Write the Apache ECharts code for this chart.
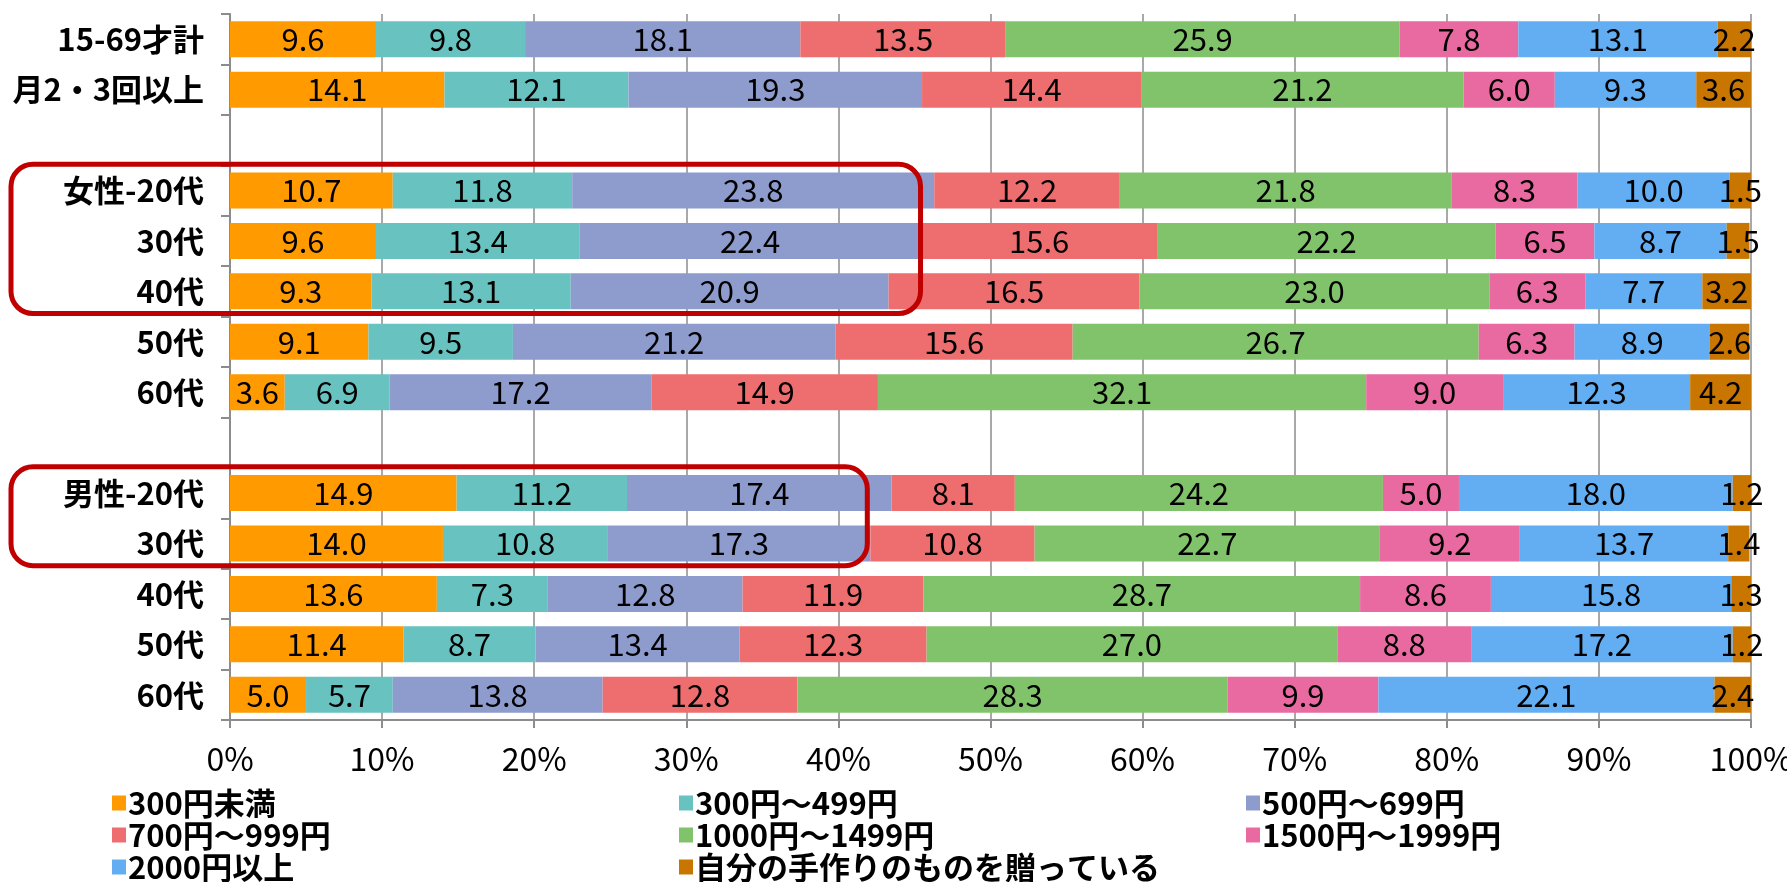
<!DOCTYPE html>
<html>
<head>
<meta charset="utf-8">
<script src="https://cdn.jsdelivr.net/npm/echarts@6/dist/echarts.min.js"></script>
<style>
  html, body { margin: 0; padding: 0; background: #fff; }
  #chart { width: 1787px; height: 882px; }
</style>
</head>
<body>
<div id="chart"></div>
<script>
const categories = ['15-69才計', '月2・3回以上', '', '女性-20代', '30代', '40代', '50代', '60代', '', '男性-20代', '30代', '40代', '50代', '60代']
const seriesNames = ['300円未満', '300円～499円', '500円～699円', '700円～999円', '1000円～1499円', '1500円～1999円', '2000円以上', '自分の手作りのものを贈っている']
const colors = ['#FF9A00', '#68C3C0', '#8E9BCD', '#EE6E6F', '#81C36B', '#E86AA0', '#63AEF2', '#C87600']
const xTicks = [0, 10, 20, 30, 40, 50, 60, 70, 80, 90, 100]

const under300 = [9.6, 14.1, null, 10.7, 9.6, 9.3, 9.1, 3.6, null, 14.9, 14.0, 13.6, 11.4, 5.0]
const y300to499 = [9.8, 12.1, null, 11.8, 13.4, 13.1, 9.5, 6.9, null, 11.2, 10.8, 7.3, 8.7, 5.7]
const y500to699 = [18.1, 19.3, null, 23.8, 22.4, 20.9, 21.2, 17.2, null, 17.4, 17.3, 12.8, 13.4, 13.8]
const y700to999 = [13.5, 14.4, null, 12.2, 15.6, 16.5, 15.6, 14.9, null, 8.1, 10.8, 11.9, 12.3, 12.8]
const y1000to1499 = [25.9, 21.2, null, 21.8, 22.2, 23.0, 26.7, 32.1, null, 24.2, 22.7, 28.7, 27.0, 28.3]
const y1500to1999 = [7.8, 6.0, null, 8.3, 6.5, 6.3, 6.3, 9.0, null, 5.0, 9.2, 8.6, 8.8, 9.9]
const over2000 = [13.1, 9.3, null, 10.0, 8.7, 7.7, 8.9, 12.3, null, 18.0, 13.7, 15.8, 17.2, 22.1]
const handmade = [2.2, 3.6, null, 1.5, 1.5, 3.2, 2.6, 4.2, null, 1.2, 1.4, 1.3, 1.2, 2.4]

const seriesValues = [under300, y300to499, y500to699, y700to999, y1000to1499, y1500to1999, over2000, handmade]

// red highlight boxes: first/last category index and right edge in %
const highlights = [
  { from: 3, to: 5, right: 45.4 },
  { from: 9, to: 10, right: 41.9 }
]

const FONT = "'Noto Sans CJK JP', sans-serif"
const GRID_GRAY = '#8c8c8c'

const chart = echarts.init(document.getElementById('chart'))

const option = {
  animation: false,
  color: colors,
  textStyle: { fontFamily: FONT },
  grid: { left: 230, right: 36, top: 14, bottom: 162, outerBoundsMode: 'none' },
  legend: {
    data: seriesNames,
    left: 107,
    top: 782,
    width: 1720,
    itemWidth: 14,
    itemHeight: 15,
    itemGap: 0,
    icon: 'rect',
    selectedMode: false,
    textStyle: {
      fontFamily: FONT,
      fontSize: 31,
      fontWeight: 'bold',
      color: '#000',
      width: 551,
      lineHeight: 32,
      padding: [0, 0, 0, -3]
    }
  },
  xAxis: {
    type: 'value',
    min: 0,
    max: 100,
    interval: 10,
    axisLine: { show: true, lineStyle: { color: GRID_GRAY, width: 2 } },
    axisTick: { show: true, length: 8, lineStyle: { color: GRID_GRAY, width: 2 } },
    splitLine: { show: true, lineStyle: { color: GRID_GRAY, width: 1.5 } },
    axisLabel: {
      formatter: v => xTicks.includes(v) ? v + '%' : '',
      fontSize: 32,
      color: '#000',
      margin: 23
    }
  },
  yAxis: {
    type: 'category',
    data: categories,
    inverse: true,
    axisLine: { show: true, lineStyle: { color: GRID_GRAY, width: 2 } },
    axisTick: { show: true, length: 9, lineStyle: { color: GRID_GRAY, width: 2 } },
    axisLabel: {
      fontSize: 31,
      fontWeight: 'bold',
      color: '#000',
      margin: 26
    }
  },
  series: seriesNames.map((name, i) => ({
    name,
    type: 'bar',
    stack: 'total',
    barWidth: 36,
    data: seriesValues[i],
    label: {
      show: true,
      position: 'inside',
      color: '#000',
      fontSize: 31,
      fontFamily: FONT,
      formatter: p => p.value == null ? '' : Number(p.value).toFixed(1)
    },
    emphasis: { disabled: true }
  }))
}

chart.setOption(option)

function drawHighlights() {
  const c0 = chart.convertToPixel({ yAxisIndex: 0 }, 0)
  const c1 = chart.convertToPixel({ yAxisIndex: 0 }, 1)
  const band = c1 - c0
  const graphics = highlights.map(h => {
    const top = chart.convertToPixel({ yAxisIndex: 0 }, h.from) - band / 2 - 1
    const bottom = chart.convertToPixel({ yAxisIndex: 0 }, h.to) + band / 2 - 3
    const right = chart.convertToPixel({ xAxisIndex: 0 }, h.right)
    return {
      type: 'rect',
      z: 100,
      shape: { x: 11, y: top, width: right - 11, height: bottom - top, r: 22 },
      style: { fill: 'none', stroke: '#C00000', lineWidth: 5 }
    }
  })
  chart.setOption({ graphic: graphics })
}

drawHighlights()
</script>
</body>
</html>
